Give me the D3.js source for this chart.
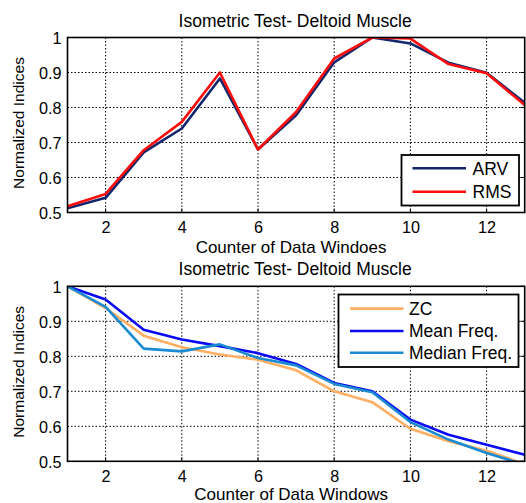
<!DOCTYPE html>
<html><head><meta charset="utf-8">
<script src="https://cdn.jsdelivr.net/npm/d3@7"></script>
<style>
html,body{margin:0;padding:0;background:#fff;}
svg text{font-family:"Liberation Sans",Arial,sans-serif;fill:#000;}
</style></head>
<body>
<svg id="chart" width="526" height="503"></svg>
<script>
const windows = [1,2,3,4,5,6,7,8,9,10,11,12,13];
const arv = [0.512,0.542,0.672,0.740,0.883,0.680,0.778,0.929,1.000,0.983,0.928,0.899,0.814];
const rms = [0.518,0.553,0.678,0.759,0.900,0.680,0.787,0.940,1.000,0.997,0.924,0.898,0.807];
const zc = [1.000,0.938,0.859,0.826,0.805,0.790,0.760,0.700,0.669,0.593,0.557,0.530,0.492];
const meanFreq = [1.000,0.962,0.876,0.848,0.829,0.809,0.778,0.724,0.700,0.619,0.576,0.547,0.519];
const medianFreq = [1.000,0.941,0.822,0.814,0.834,0.795,0.774,0.721,0.697,0.612,0.562,0.524,0.490];
const xTicks = [2,4,6,8,10,12];
const yTicks = [0.5,0.6,0.7,0.8,0.9,1];
const titleText = "Isometric Test- Deltoid Muscle";
const yLabel = "Normalized Indices";

const panels = [
  {top:37.5, xLabel:"Counter of Data Windoes", xLabelY:252.5,
   series:[{name:"ARV",values:arv,color:"#13266b"},{name:"RMS",values:rms,color:"#ff0d0d"}],
   legend:{x:401.5,y:155,w:117.5,h:50.5,x1:412.5,x2:466,ys:[168.3,191.7],tx:472.5}},
  {top:286.3, xLabel:"Counter of Data Windows", xLabelY:500,
   series:[{name:"ZC",values:zc,color:"#ffae62"},{name:"Mean Freq.",values:meanFreq,color:"#0a0af5"},{name:"Median Freq.",values:medianFreq,color:"#1a8bd2"}],
   legend:{x:338.5,y:294.5,w:180,h:72.5,x1:350,x2:403.5,ys:[308.6,331,352.7],tx:409}}
];

const svg = d3.select("#chart");
const left = 67.5, right = 524.7, plotH = 175;

panels.forEach((p,pi)=>{
  const x = d3.scaleLinear().domain([1,13]).range([left,right]);
  const y = d3.scaleLinear().domain([0.5,1]).range([p.top+plotH,p.top]);
  const g = svg.append("g");
  const cid = "clip"+pi;
  svg.append("clipPath").attr("id",cid).append("rect")
    .attr("x",left).attr("y",p.top).attr("width",right-left).attr("height",plotH);

  // grid
  g.append("g").selectAll("line").data(xTicks).join("line")
    .attr("x1",d=>x(d)).attr("x2",d=>x(d)).attr("y1",p.top).attr("y2",p.top+plotH)
    .attr("stroke","#000").attr("stroke-width",1).attr("stroke-dasharray","1.5,2");
  g.append("g").selectAll("line").data(yTicks.filter(d=>d>0.5&&d<1)).join("line")
    .attr("x1",left).attr("x2",right).attr("y1",d=>y(d)).attr("y2",d=>y(d))
    .attr("stroke","#000").attr("stroke-width",1).attr("stroke-dasharray","1.5,2");

  // lines
  const line = d3.line().x((d,i)=>x(windows[i])).y(d=>y(d));
  p.series.forEach(s=>{
    g.append("path").datum(s.values).attr("d",line).attr("fill","none")
      .attr("stroke",s.color).attr("stroke-width",2.6).attr("stroke-linejoin","round")
      .attr("clip-path",`url(#${cid})`);
  });

  // axes
  const xAxis = d3.axisBottom(x).tickValues(xTicks).tickSize(0).tickPadding(9).tickFormat(d3.format("d"));
  const ax = g.append("g").attr("transform",`translate(0,${p.top+plotH})`).call(xAxis);
  ax.select(".domain").remove();
  ax.selectAll("text").attr("font-size","16.2px").attr("font-family","Liberation Sans, Arial, sans-serif").attr("fill","#000");
  const yAxis = d3.axisLeft(y).tickValues(yTicks).tickSize(0).tickPadding(6).tickFormat(d=>d===1?"1":d3.format(".1f")(d));
  const ay = g.append("g").attr("transform",`translate(${left},0)`).call(yAxis);
  ay.select(".domain").remove();
  ay.selectAll("text").attr("font-size","16.2px").attr("font-family","Liberation Sans, Arial, sans-serif").attr("fill","#000").attr("dy","0.4em");

  // small inner tick marks
  g.append("g").selectAll("line").data(xTicks).join("line")
    .attr("x1",d=>x(d)).attr("x2",d=>x(d)).attr("y1",p.top+plotH).attr("y2",p.top+plotH-4)
    .attr("stroke","#000").attr("stroke-width",1);
  g.append("g").selectAll("line").data(yTicks).join("line")
    .attr("x1",right).attr("x2",right-4).attr("y1",d=>y(d)).attr("y2",d=>y(d))
    .attr("stroke","#000").attr("stroke-width",1);

  // frame
  g.append("rect").attr("x",left).attr("y",p.top).attr("width",right-left).attr("height",plotH)
    .attr("fill","none").attr("stroke","#000").attr("stroke-width",1.6);

  // title & labels
  g.append("text").attr("x",(left+right)/2 - 1).attr("y",p.top-11).attr("text-anchor","middle")
    .attr("font-size","17.5px").text(titleText);
  g.append("text").attr("x",(left+right)/2 - 5).attr("y",p.xLabelY).attr("text-anchor","middle")
    .attr("font-size","17px").text(p.xLabel);
  g.append("text").attr("transform",`translate(24,${p.top+plotH/2 - 2}) rotate(-90)`).attr("text-anchor","middle")
    .attr("font-size","15.5px").text(yLabel);

  // legend
  const L = p.legend;
  const lg = g.append("g");
  lg.append("rect").attr("x",L.x).attr("y",L.y).attr("width",L.w).attr("height",L.h)
    .attr("fill","#fff").attr("stroke","#000").attr("stroke-width",1.8);
  p.series.forEach((s,i)=>{
    lg.append("line").attr("x1",L.x1).attr("x2",L.x2).attr("y1",L.ys[i]).attr("y2",L.ys[i])
      .attr("stroke",s.color).attr("stroke-width",2.6);
    lg.append("text").attr("x",L.tx).attr("y",L.ys[i]).attr("dy","0.36em")
      .attr("font-size","17.5px").text(s.name);
  });
});
</script>
</body></html>
